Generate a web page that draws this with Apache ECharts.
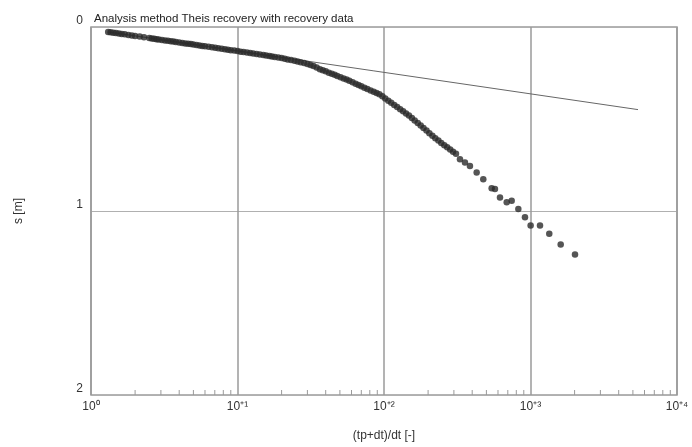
<!DOCTYPE html>
<html>
<head>
<meta charset="utf-8">
<script src="https://cdn.jsdelivr.net/npm/echarts@6/dist/echarts.min.js"></script>
<style>
  html, body { margin: 0; padding: 0; background: #fff; }
  #chart { width: 692px; height: 447px; }
</style>
</head>
<body>
<div id="chart"></div>
<script>
// measured points: (tp+dt)/dt and drawdown s [m]
const tRatio = [1.31, 1.36, 1.42, 1.48, 1.55, 1.62, 1.7, 1.8, 1.9, 2.0, 2.15, 2.3, 2.5, 2.6, 2.7,
  2.8, 2.9, 3.05, 3.2, 3.35, 3.5, 3.65, 3.8, 4.0, 4.2, 4.4, 4.6, 4.8, 5.0, 5.25, 5.5, 5.75, 6.0,
  6.35, 6.7, 7.05, 7.4, 7.8, 8.2, 8.6, 9.0, 9.5, 10, 10.5, 11, 11.6, 12.2, 12.8, 13.5, 14.2, 15,
  15.7, 16.5, 17.2, 18, 19, 20, 21, 22, 23.2, 24.5, 25.7, 27, 28.5, 30, 31.5, 33, 34.7, 36.5,
  38.2, 40, 42, 44, 46, 48, 50.5, 53, 55.5, 58, 61, 64, 67, 70, 73.5, 77, 81, 85, 89, 93, 97.5,
  102, 107, 112, 117.5, 123, 129, 135, 141.5, 148, 155, 162, 170, 178, 186, 195, 204, 214, 224,
  235, 246, 258, 270, 283, 296, 310, 330, 357, 386, 429, 476, 543, 572, 619, 688, 744, 826, 917,
  1002, 1161, 1343, 1607, 2013];
const drawdown = [0.027, 0.029, 0.031, 0.033, 0.035, 0.038, 0.040, 0.043, 0.046, 0.049, 0.052,
  0.056, 0.060, 0.062, 0.064, 0.066, 0.068, 0.070, 0.073, 0.075, 0.077, 0.079, 0.081, 0.084,
  0.087, 0.089, 0.091, 0.093, 0.095, 0.098, 0.100, 0.103, 0.105, 0.108, 0.110, 0.113, 0.116,
  0.118, 0.121, 0.123, 0.126, 0.128, 0.131, 0.134, 0.136, 0.139, 0.141, 0.144, 0.147, 0.150,
  0.152, 0.155, 0.157, 0.160, 0.163, 0.166, 0.169, 0.172, 0.176, 0.180, 0.184, 0.188, 0.192,
  0.196, 0.201, 0.206, 0.212, 0.220, 0.229, 0.235, 0.241, 0.248, 0.254, 0.260, 0.266, 0.273,
  0.280, 0.286, 0.292, 0.300, 0.308, 0.315, 0.322, 0.330, 0.337, 0.345, 0.352, 0.359, 0.366,
  0.377, 0.389, 0.401, 0.412, 0.424, 0.435, 0.447, 0.458, 0.470, 0.481, 0.494, 0.508, 0.522,
  0.536, 0.549, 0.563, 0.577, 0.591, 0.604, 0.617, 0.630, 0.642, 0.654, 0.666, 0.678, 0.689,
  0.719, 0.737, 0.755, 0.791, 0.827, 0.877, 0.881, 0.926, 0.953, 0.944, 0.989, 1.034, 1.079,
  1.079, 1.124, 1.182, 1.236];

// fitted Theis recovery line (end points)
const fitRatio = [1.31, 5420];
const fitDrawdown = [0.027, 0.449];

// minor tick positions on the log axis
const minorTicks = [];
[1, 10, 100, 1000].forEach(function (d) {
  [2, 3, 4, 5, 6, 7, 8, 9].forEach(function (m) { minorTicks.push(d * m); });
});

const tickLabels = { 1: '10⁰', 10: '10⁺¹', 100: '10⁺²', 1000: '10⁺³', 10000: '10⁺⁴' };

const chart = echarts.init(document.getElementById('chart'));

const option = {
  animation: false,
  textStyle: { fontFamily: 'Liberation Sans, Arial, sans-serif' },
  title: {
    text: 'Analysis method Theis recovery with recovery data',
    left: 89,
    top: 8,
    textStyle: { fontSize: 11.5, fontWeight: 'normal', color: '#222' }
  },
  grid: {
    left: 91, right: 15, top: 27, bottom: 50,
    show: true, borderColor: '#9a9a9a', borderWidth: 1.5
  },
  xAxis: {
    type: 'log',
    logBase: 10,
    min: 1,
    max: 10000,
    name: '(tp+dt)/dt [-]',
    nameLocation: 'middle',
    nameGap: 35,
    nameTextStyle: { fontSize: 12, color: '#333' },
    axisLine: { show: false },
    axisTick: { show: false },
    axisLabel: {
      fontSize: 12, color: '#333', margin: 6,
      formatter: function (v) { return tickLabels[Math.round(v)] || ''; }
    },
    splitLine: { show: true, lineStyle: { color: '#9a9a9a', width: 1.5 } }
  },
  yAxis: {
    type: 'value',
    inverse: true,
    min: 0,
    max: 2,
    interval: 1,
    name: 's [m]',
    nameLocation: 'middle',
    nameGap: 66,
    nameTextStyle: { fontSize: 12, color: '#333' },
    axisLine: { show: false },
    axisTick: { show: false },
    axisLabel: { fontSize: 12, color: '#333', margin: 8, verticalAlign: 'bottom' },
    splitLine: { show: true, lineStyle: { color: '#b0b0b0', width: 1.2 } }
  },
  series: [
    {
      type: 'custom',
      silent: true,
      renderItem: function (params, api) {
        const p = api.coord([api.value(0), 2]);
        return {
          type: 'line',
          shape: { x1: p[0], y1: p[1], x2: p[0], y2: p[1] - 5 },
          style: { stroke: '#9a9a9a', lineWidth: 1 }
        };
      },
      data: minorTicks.map(function (v) { return [v]; }),
      z: 1
    },
    {
      type: 'line',
      data: fitRatio.map(function (v, i) { return [v, fitDrawdown[i]]; }),
      showSymbol: false,
      lineStyle: { color: '#666', width: 1 },
      z: 2
    },
    {
      type: 'scatter',
      data: tRatio.map(function (v, i) { return [v, drawdown[i]]; }),
      symbolSize: 6.5,
      itemStyle: { color: '#2a2a2a' },
      z: 3
    }
  ]
};

chart.setOption(option);
</script>
</body>
</html>
